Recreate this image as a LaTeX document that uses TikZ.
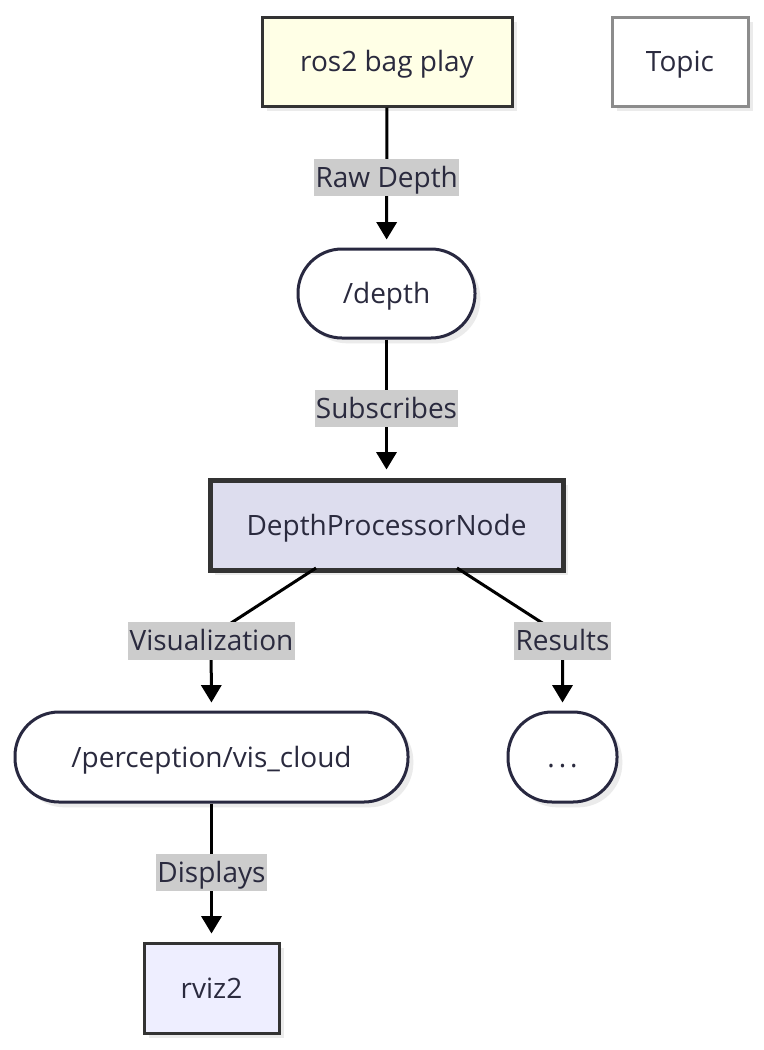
\documentclass[tikz,border=0pt]{standalone}
\usepackage{fontspec}
\setmainfont{Open Sans}
\usetikzlibrary{shadows,arrows.meta}
\definecolor{txt}{RGB}{42,42,62}
\definecolor{strk}{RGB}{51,51,51}
\definecolor{navy}{RGB}{40,40,64}
\definecolor{yel}{RGB}{255,255,230}
\definecolor{lav}{RGB}{221,221,238}
\definecolor{lav2}{RGB}{238,238,255}
\definecolor{lblg}{RGB}{204,204,204}
\tikzset{
  fnt/.style={font=\fontsize{21}{24}\selectfont},
  base/.style={fnt, text=txt, inner sep=0pt, text height=15.6pt, text depth=0pt,
    drop shadow={shadow xshift=4pt, shadow yshift=-4pt, fill=black!8, opacity=1}},
  boxA/.style={base, rectangle, draw=strk, line width=2.25pt},
  topicbox/.style={base, rectangle, draw=black!45, line width=2.25pt, fill=white},
  stadium/.style={base, rectangle, rounded corners=33pt, draw=navy, line width=2.25pt, fill=white},
  lbl/.style={fnt, fill=lblg, text=txt, inner xsep=1pt, inner ysep=0pt, text height=14.5pt, text depth=0pt, minimum height=28pt},
  arr/.style={line width=2.25pt, -{Triangle[length=13pt,width=15pt]}, shorten >=6pt},
}
\begin{document}
\begin{tikzpicture}[x=0.75pt,y=-0.75pt]
\useasboundingbox[fill=white] (0,0) rectangle (764,1050);
\node[boxA, fill=yel, minimum width=187.5pt, minimum height=66.75pt] (ros) at (387,61.5) {ros2 bag play};
\node[topicbox, minimum width=102pt, minimum height=66.75pt] (topic) at (680,61.5) {Topic};
\node[stadium, minimum width=132.75pt, minimum height=66.75pt] (depth) at (386.5,293.5) {/depth};
\node[boxA, fill=lav, line width=3.75pt, minimum width=264.75pt, minimum height=67.5pt] (dpn) at (386.5,525) {DepthProcessorNode};
\node[stadium, minimum width=81.75pt, minimum height=67.5pt] (res) at (562.5,757) {.\kern3pt.\kern3pt.};
\node[stadium, minimum width=294.75pt, minimum height=67.5pt] (vis) at (211.5,757) {/perception/vis\_cloud};
\node[boxA, fill=lav2, minimum width=101.25pt, minimum height=67.5pt] (rviz) at (211.5,988) {rviz2};

\coordinate (dpnL) at (316,568);
\coordinate (dpnR) at (457,568);
\coordinate (bendL) at (211,636);
\coordinate (bendR) at (562.5,636);

\draw[arr] (ros) -- node[lbl]{Raw Depth} (depth);
\draw[arr] (depth) -- node[lbl]{Subscribes} (dpn);
\draw[arr] (dpnL) -- (bendL) -- (vis.north);
\node[lbl] (lv) at (211.5,641) {Visualization};
\draw[arr] (dpnR) -- (bendR) -- (res.north);
\node[lbl] (lr) at (562.5,641) {Results};
\draw[arr] (vis) -- node[lbl]{Displays} (rviz);
\end{tikzpicture}
\end{document}
